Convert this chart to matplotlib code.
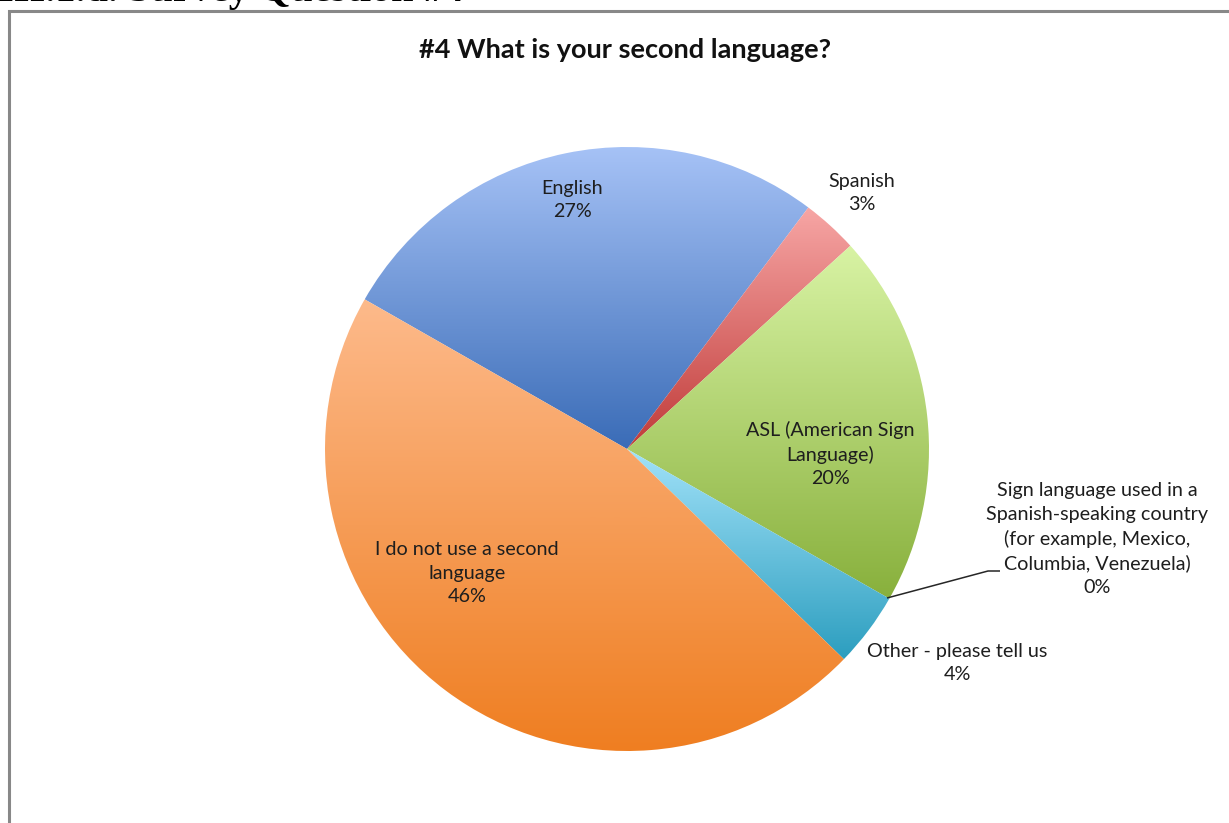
import numpy as np
import matplotlib
matplotlib.use("Agg")
import matplotlib.pyplot as plt
from matplotlib.colors import LinearSegmentedColormap

# Survey question #4: second language of respondents (percent)
categories = [
    "English",
    "Spanish",
    "ASL (American Sign\nLanguage)",
    "Sign language used in a\nSpanish-speaking country\n(for example, Mexico,\nColumbia, Venezuela)",
    "Other - please tell us",
    "I do not use a second\nlanguage",
]
values = [27, 3, 20, 0, 4, 46]

# light (top) -> dark (bottom) gradient colours for each slice
top_colors = ["#a6c2f6", "#f7a6a5", "#d8f3a4", "#d8f3a4", "#a2e2f9", "#fdba8b"]
bottom_colors = ["#3a6cb7", "#c03b39", "#88b03c", "#88b03c", "#2c9ebf", "#ef7e21"]

title = "#4 What is your second language?"
header = "III.1.d. Survey Question #4"

W, H = 1229, 823
fig = plt.figure(figsize=(W / 100, H / 100), dpi=100)
ax = fig.add_axes([0, 0, 1, 1])

text_font = ["Lato", "DejaVu Sans"]
txt_color = "#1e1e1e"

cx, cy, r = 627, H - 449, 302
wedges, _ = ax.pie(values, startangle=150.3, counterclock=False,
                   center=(cx, cy), radius=r, frame=True,
                   wedgeprops=dict(linewidth=0))
ax.set_xlim(0, W)
ax.set_ylim(0, H)
ax.set_aspect("equal")
ax.axis("off")

# vertical gradient inside each slice: dark at the bottom, light at the top
grad = np.linspace(0, 1, 256).reshape(-1, 1)
for w, c0, c1, v in zip(wedges, top_colors, bottom_colors, values):
    if v == 0:
        continue
    w.set_facecolor("none")
    bb = w.get_path().get_extents(w.get_patch_transform())
    cmap = LinearSegmentedColormap.from_list("g", [c1, c0])
    im = ax.imshow(grad, cmap=cmap, aspect="auto",
                   extent=[bb.x0, bb.x1, bb.y0, bb.y1], origin="lower",
                   interpolation="bilinear", zorder=1)
    im.set_clip_path(w)

# percentage labels built from the values
labels = [f"{c}\n{v}%" for c, v in zip(categories, values)]
label_pos = [
    (572, 200),
    (862, 193),
    (830, 454),
    (1097, 539),
    (957, 663),
    (467, 573),
]
for lab, (x, y) in zip(labels, label_pos):
    ax.text(x, H - y, lab, ha="center", va="center", fontsize=14.2,
            family=text_font, color=txt_color, linespacing=1.45, zorder=5)

# leader line for the zero-size slice
ax.plot([887, 988, 1000], [H - 598, H - 571, H - 571], color="#262626",
        lw=1.1, zorder=4, solid_capstyle="butt")

# chart title
ax.text(625, H - 50, title, ha="center", va="center", fontsize=19.5,
        fontweight="bold", family=text_font, color="#111111", zorder=5)

# chart frame (left and top edges)
ax.plot([9, 9, W + 5], [-5, H - 11, H - 11], color="#888888", lw=2.2,
        zorder=6, solid_joinstyle="miter")

# document heading above the chart
ax.text(-2, H - 1, header, ha="left", va="baseline", fontsize=29,
        fontweight="bold", family=["Liberation Serif", "DejaVu Serif"],
        color="black", zorder=6, clip_on=False)

fig.savefig("out.png", dpi=100)
